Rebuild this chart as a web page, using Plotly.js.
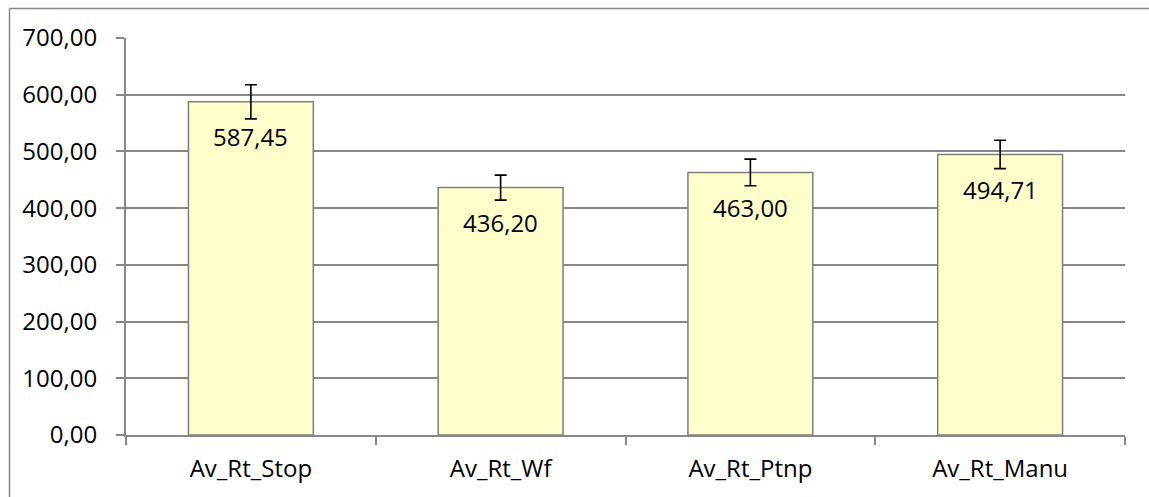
<!DOCTYPE html>
<html><head><meta charset="utf-8">
<script src="https://cdn.plot.ly/plotly-3.0.1.min.js"></script>
<style>html,body{margin:0;padding:0;background:#fff;}#chart{width:1149px;height:497px;}</style>
</head><body><div id="chart"></div>
<script>
const categories = ["Av_Rt_Stop", "Av_Rt_Wf", "Av_Rt_Ptnp", "Av_Rt_Manu"];
const values = [587.45, 436.20, 463.00, 494.71];
const errors = [30, 22, 23.5, 25];
const yTicks = [0, 100, 200, 300, 400, 500, 600, 700];

const FONT = "'Open Sans', 'Noto Sans', sans-serif";
const FS = 24;
const fmt = v => v.toFixed(2).replace('.', ',');

const W = 1149, H = 497, L = 126, R = 24, T = 38, B = 62;
const pw = W - L - R, ph = H - T - B;
const px = x => (x - L) / pw, py = y => (H - B - y) / ph;

const trace = {
  type: 'bar', x: categories, y: values, width: 0.5,
  marker: {color: '#FFFFCC', line: {color: '#7F7F7F', width: 1.5}},
  error_y: {type: 'data', array: errors, visible: true, color: '#000', thickness: 1.6, width: 6},
  hoverinfo: 'skip'
};

const annotations = categories.map((c, i) => ({
  x: c, y: values[i], xref: 'x', yref: 'y', text: fmt(values[i]),
  showarrow: false, yanchor: 'middle', yshift: -35,
  font: {family: FONT, size: FS, color: '#000'}
}));

const layout = {
  width: W, height: H,
  margin: {l: L, r: R, t: T, b: B},
  paper_bgcolor: '#fff', plot_bgcolor: '#fff',
  showlegend: false,
  separators: ',.',
  font: {family: FONT, size: FS, color: '#000'},
  xaxis: {
    type: 'category', tickson: 'boundaries', ticks: 'outside', ticklen: 8,
    tickcolor: '#888888', tickwidth: 2, showline: true, linecolor: '#888888', linewidth: 2,
    showgrid: false, zeroline: false, ticklabelstandoff: 11,
    tickfont: {family: FONT, size: FS, color: '#000'}, fixedrange: true
  },
  yaxis: {
    range: [0, 700], tickvals: yTicks, tickformat: '.2f',
    ticks: 'outside', ticklen: 8, tickcolor: '#888888', tickwidth: 2,
    showline: true, linecolor: '#888888', linewidth: 2,
    showgrid: true, gridcolor: '#888888', gridwidth: 2, zeroline: false,
    ticklabelstandoff: 14,
    tickfont: {family: FONT, size: FS, color: '#000'}, fixedrange: true
  },
  annotations: annotations,
  shapes: [
    {type: 'line', xref: 'paper', yref: 'paper', x0: px(9.5), x1: px(9.5), y0: py(8.5), y1: py(500), line: {color: '#888888', width: 1.5}},
    {type: 'line', xref: 'paper', yref: 'paper', x0: px(9.5), x1: px(1160), y0: py(8.5), y1: py(8.5), line: {color: '#888888', width: 1.5}}
  ]
};

Plotly.newPlot('chart', [trace], layout, {displayModeBar: false, staticPlot: true});
</script></body></html>
